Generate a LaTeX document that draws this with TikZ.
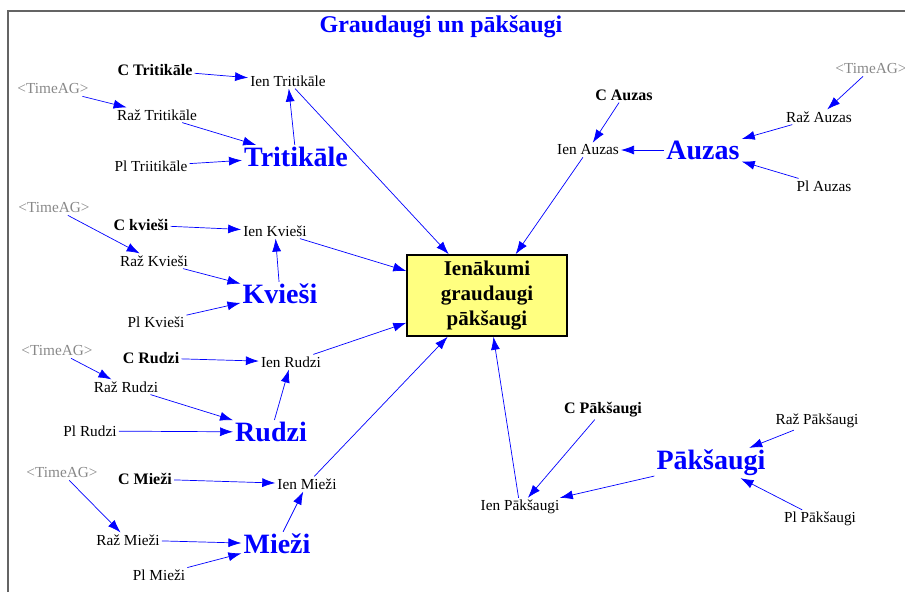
\documentclass[tikz,border=0pt]{standalone}
\usepackage{fontspec}
\setmainfont{Liberation Serif}
\usetikzlibrary{arrows.meta}
\definecolor{flowblue}{RGB}{0,0,255}
\definecolor{boxyellow}{RGB}{255,255,128}
\definecolor{ghostgray}{RGB}{136,136,136}
\definecolor{framegray}{RGB}{100,100,100}
\tikzset{
  var/.style={inner sep=2pt,font=\fontsize{15.3}{15}\selectfont},
  cvar/.style={inner sep=2pt,font=\fontsize{16}{16}\selectfont\bfseries},
  ghost/.style={var,text=ghostgray},
  stock/.style={inner sep=2pt,text=flowblue,font=\fontsize{28}{28}\selectfont\bfseries},
  link/.style={draw=flowblue,line width=0.7pt,-{Latex[length=13pt,width=9pt]}},
}
\begin{document}
\begin{tikzpicture}[x=1pt,y=-1pt]
  \useasboundingbox (0,0) rectangle (905,592);
  \draw[line width=2pt,draw=framegray] (8,592) -- (8,11) -- (905,11);
  \node[text=flowblue,font=\fontsize{24}{24}\selectfont\bfseries] (title) at (441,27) {Graudaugi un pākšaugi};
  \node[draw,line width=1.5pt,fill=boxyellow,minimum width=160pt,minimum height=81pt,align=center,
        font=\fontsize{21}{25}\selectfont\bfseries] (box) at (487,295.5) {Ienākumi\\graudaugi\\pākšaugi};
  % Tritikale
  \node[ghost] (tTr) at (53,89) {<TimeAG>};
  \node[cvar] (cTr) at (155,70) {C Tritikāle};
  \node[var] (ienTr) at (288,81) {Ien Tritikāle};
  \node[var] (razTr) at (157,115) {Raž Tritikāle};
  \node[var] (plTr) at (151,166) {Pl Triitikāle};
  \node[stock] (Tr) at (296,157) {Tritikāle};
  % Kviesi
  \node[ghost] (tKv) at (54,208) {<TimeAG>};
  \node[cvar] (cKv) at (141,225) {C kvieši};
  \node[var] (ienKv) at (275,231) {Ien Kvieši};
  \node[var] (razKv) at (154,261) {Raž Kvieši};
  \node[var] (plKv) at (156,322) {Pl Kvieši};
  \node[stock] (Kv) at (280,294) {Kvieši};
  % Rudzi
  \node[ghost] (tRu) at (57,351) {<TimeAG>};
  \node[cvar] (cRu) at (151,358) {C Rudzi};
  \node[var] (ienRu) at (291,362) {Ien Rudzi};
  \node[var] (razRu) at (126,387) {Raž Rudzi};
  \node[var] (plRu) at (90,431) {Pl Rudzi};
  \node[stock] (Ru) at (271,432) {Rudzi};
  % Miezi
  \node[ghost] (tMi) at (62,473) {<TimeAG>};
  \node[cvar] (cMi) at (145,479) {C Mieži};
  \node[var] (ienMi) at (307,484) {Ien Mieži};
  \node[var] (razMi) at (128,540) {Raž Mieži};
  \node[var] (plMi) at (159,575) {Pl Mieži};
  \node[stock] (Mi) at (277,544) {Mieži};
  % Auzas
  \node[ghost] (tAu) at (871,69) {<TimeAG>};
  \node[cvar] (cAu) at (624,95) {C Auzas};
  \node[var] (ienAu) at (588,150) {Ien Auzas};
  \node[var] (razAu) at (819,117) {Raž Auzas};
  \node[var] (plAu) at (824,186) {Pl Auzas};
  \node[stock] (Au) at (703,150) {Auzas};
  % Paksaugi
  \node[cvar] (cPa) at (603,410) {C Pākšaugi};
  \node[var] (ienPa) at (520,507) {Ien Pākšaugi};
  \node[var] (razPa) at (817,421) {Raž Pākšaugi};
  \node[var] (plPa) at (820,519) {Pl Pākšaugi};
  \node[stock] (Pa) at (711,463) {Pākšaugi};
  % links
  \foreach \g in {Tr,Kv,Ru,Mi,Au}{
    \draw[link] (t\g) -- (raz\g);}
  \foreach \g in {Tr,Kv,Ru,Mi,Au,Pa}{
    \draw[link] (c\g) -- (ien\g);
    \draw[link] (raz\g) -- (\g);
    \draw[link] (pl\g) -- (\g);
    \draw[link] (\g) -- (ien\g);
    \draw[link] (ien\g) -- (box);}
\end{tikzpicture}
\end{document}
